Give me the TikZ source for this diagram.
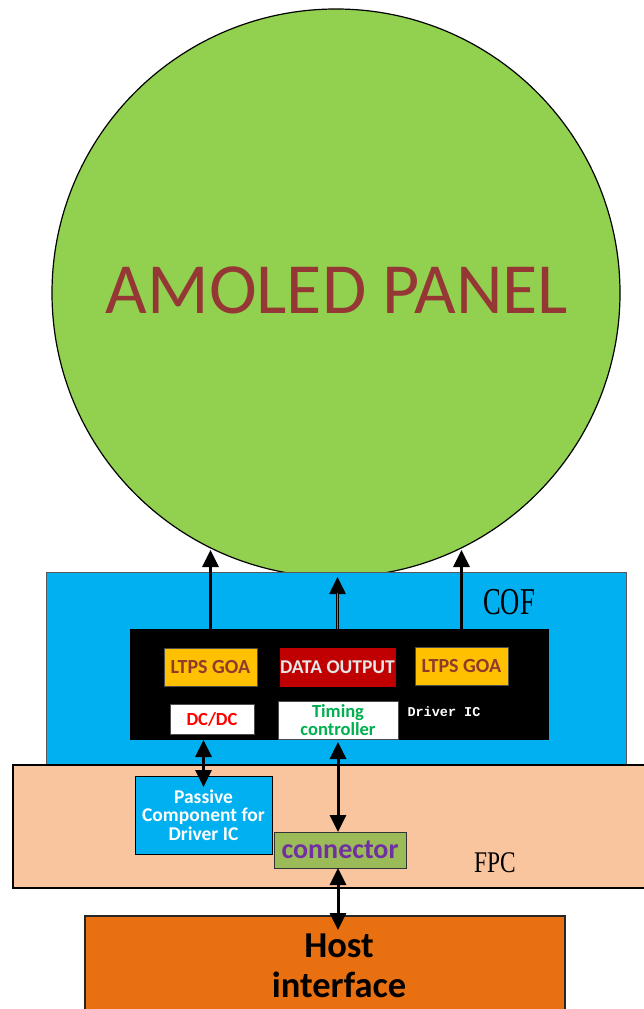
\documentclass[tikz,border=0pt]{standalone}
\usepackage{fontspec}
\usepackage{graphicx}
\usetikzlibrary{arrows.meta,calc}
\newfontfamily\calfont{Carlito}
\newfontfamily\serfont{Liberation Serif}
\newfontfamily\codefont{Liberation Mono}
\definecolor{panelgreen}{HTML}{92D050}
\definecolor{paneltext}{HTML}{953735}
\definecolor{cofblue}{HTML}{00B0F0}
\definecolor{fpcpeach}{HTML}{F8C59E}
\definecolor{hostorange}{HTML}{E97010}
\definecolor{goayellow}{HTML}{FFC000}
\definecolor{goatext}{HTML}{8E3B2E}
\definecolor{datared}{HTML}{C00000}
\definecolor{datatext}{HTML}{E7E6E6}
\definecolor{dcred}{HTML}{FF0000}
\definecolor{timgreen}{HTML}{00B050}
\definecolor{conngreen}{HTML}{9BBB59}
\definecolor{connpurple}{HTML}{7030A0}
\definecolor{midshaft}{HTML}{5A7F95}
\begin{document}
\begin{tikzpicture}[x=1pt,y=-1pt,
  blk/.style={rectangle, inner sep=0pt, outer sep=0pt, align=center},
  chip/.style={blk, draw=black!70, line width=0.6pt},
  arr/.style={line width=3pt, -{Triangle[width=16pt,length=17pt]}},
  darr/.style={line width=3pt, {Triangle[width=16pt,length=17pt]}-{Triangle[width=16pt,length=17pt]}},
  lbl/.style={font=\calfont\bfseries\fontsize{20}{21}\selectfont}
]
\useasboundingbox (0,0) rectangle (643,1009);
% panel
\node[circle, draw=black, line width=1.2pt, fill=panelgreen, minimum size=568pt, inner sep=0pt] (panel) at (336,293) {};
\node[anchor=base, text=paneltext, font=\calfont\fontsize{72}{72}\selectfont] (paneltxt) at (337,313) {AMOLED PANEL};
% COF
\node[blk, draw=black!65, line width=0.8pt, fill=cofblue, minimum width=580pt, minimum height=192pt] (cof) at (336,668) {};
\node[anchor=base] (coftxt) at (509,614) {\scalebox{0.7}[1]{\serfont\fontsize{38}{38}\selectfont COF}};
% FPC
\node[blk, draw=black, line width=1.5pt, fill=fpcpeach, minimum width=640pt, minimum height=123pt] (fpc) at (333,826.5) {};
\node[anchor=base] (fpctxt) at (495,872) {\scalebox{0.78}[1]{\serfont\fontsize{30}{30}\selectfont FPC}};
% Driver IC
\node[blk, fill=black, minimum width=419pt, minimum height=111pt] (ic) at (339.5,684.5) {};
\node[chip, fill=goayellow, text=goatext, lbl, minimum width=93pt, minimum height=38pt] (goaL) at (210.5,667) {LTPS GOA};
\node[chip, fill=datared, draw=datared, text=datatext, lbl, font=\calfont\bfseries\fontsize{19.5}{20}\selectfont, minimum width=113pt, minimum height=38pt] (dout) at (337.5,667) {DATA OUTPUT};
\node[chip, fill=goayellow, text=goatext, lbl, minimum width=93pt, minimum height=38pt] (goaR) at (461.5,666) {LTPS GOA};
\node[chip, fill=white, text=dcred, font=\calfont\bfseries\fontsize{18.5}{19}\selectfont, minimum width=84pt, minimum height=30pt] (dcdc) at (212,719) {DC/DC};
\node[chip, fill=white, text=timgreen, font=\calfont\bfseries\fontsize{18.5}{18}\selectfont, minimum width=120pt, minimum height=38pt] (timing) at (338,720) {Timing\\controller};
\node[anchor=base, text=white, font=\codefont\bfseries\fontsize{13.5}{14}\selectfont] (drvtxt) at (444,716) {Driver IC};
% FPC parts
\node[chip, draw=black, fill=cofblue, text=white, font=\calfont\bfseries\fontsize{19.5}{18.5}\selectfont, minimum width=137pt, minimum height=78pt] (passive) at (203.5,815) {Passive\\Component for\\Driver IC};
\node[chip, draw=black!80, line width=1pt, fill=conngreen, text=connpurple, font=\calfont\bfseries\fontsize{28}{28}\selectfont, minimum width=132pt, minimum height=36pt] (connector) at (340,850) {connector};
% Host
\node[blk, draw=black!85, line width=1.2pt, fill=hostorange, minimum width=480pt, minimum height=100pt] (host) at (325,966) {};
\node[align=center, font=\calfont\bfseries\fontsize{36.5}{40}\selectfont, inner sep=0pt] (hosttxt) at (339,966) {Host\\interface};
% arrows to panel
\coordinate (tipL) at (210.5,550);
\coordinate (tipR) at (461.5,550);
\coordinate (tipM) at (337.5,577);
\draw[arr] (goaL.center |- ic.north) -- (tipL);
\draw[arr] (goaR.center |- ic.north) -- (tipR);
\draw[arr, line width=2.6pt] (dout.center |- ic.north) -- (tipM);
\draw[midshaft, line width=0.9pt, shorten >=16pt] (dout.center |- ic.north) -- (tipM);
% bidirectional arrows
\draw[darr, shorten <=6pt, shorten >=-11pt] (passive.north |- dcdc.south) -- (passive.north);
\draw[darr, shorten <=3pt] (timing.south) -- (timing.south |- connector.north);
\draw[darr, shorten >=-14pt] (timing.south |- connector.south) -- (timing.south |- host.north);
\end{tikzpicture}
\end{document}
